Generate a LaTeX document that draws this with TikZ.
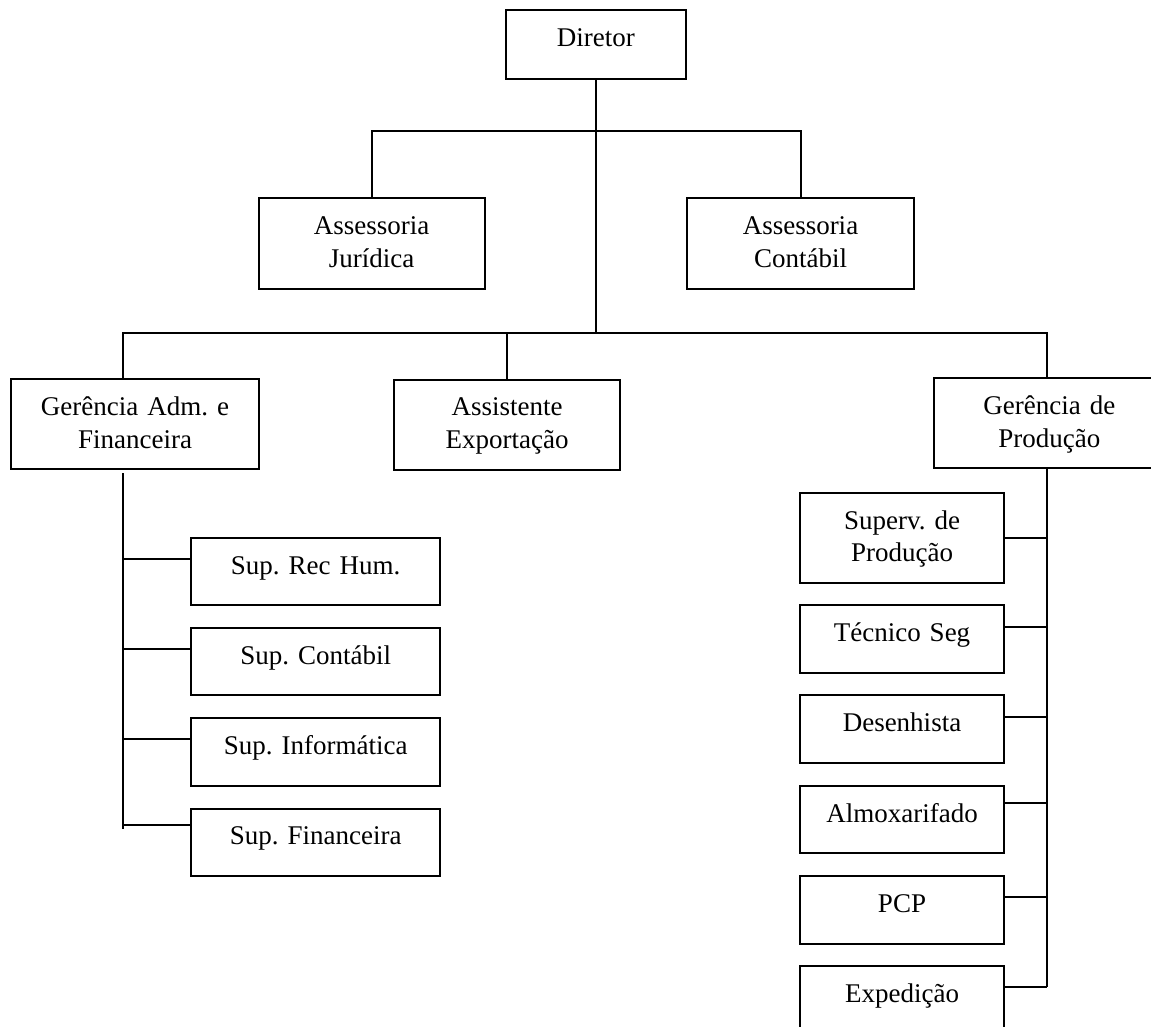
\documentclass[tikz,border=0pt]{standalone}
\usepackage{fontspec}
\setmainfont{Liberation Serif}
\frenchspacing
\begin{document}
\begin{tikzpicture}[x=1pt,y=-1pt,
  line width=2pt,
  box/.style={draw, rectangle, inner sep=0pt, anchor=north west, align=center,
    font=\fontsize{27}{32.7}\selectfont, text height=36.3pt},
  wide/.style={text width=#1pt, minimum width=#1pt},
  tall/.style n args={2}{minimum height=#1pt, text depth=#2pt},
  link/.style={line width=2pt}]
\useasboundingbox (0,0) rectangle (1151,1027);
\clip (0,0) rectangle (1151,1027);

% top level
\node[box, wide=180.8, tall={68.4}{32.1}] (dir) at (504.5,9.3) {Diretor};

% staff advisors
\node[box, wide=226.2, tall={90.5}{54.2}] (jur) at (257.6,197.5) {Assessoria\\Jurídica};
\node[box, wide=226.4, tall={90.5}{54.2}] (cont) at (686.3,197.5) {Assessoria\\Contábil};

% managers
\node[box, wide=248.6, tall={90}{53.7}] (gadm) at (9.7,378.3) {Gerência Adm. e\\Financeira};
\node[box, wide=226.3, tall={90.2}{53.9}] (asst) at (393,378.5) {Assistente\\Exportação};
\node[box, wide=230, tall={90.3}{54}] (gprod) at (933.3,377) {Gerência de\\Produção};

% administrative supervisors
\node[box, wide=249.3, tall={67.6}{31.3}] (rh) at (190,536.7) {Sup. Rec Hum.};
\node[box, wide=249.3, tall={67.6}{31.3}] (sct) at (190,626.7) {Sup. Contábil};
\node[box, wide=249.3, tall={67.6}{31.3}] (inf) at (190,717.3) {Sup. Informática\hspace*{14pt}};
\node[box, wide=249.3, tall={67.6}{31.3}] (fin) at (190,807.5) {Sup. Financeira};

% production staff
\node[box, wide=204, tall={90}{53.7}] (sp) at (799,491.7) {Superv. de\\Produção};
\node[box, wide=204, tall={68}{31.7}] (tec) at (799,604.3) {Técnico Seg};
\node[box, wide=204, tall={68}{31.7}] (des) at (799,694.3) {Desenhista};
\node[box, wide=204, tall={67.3}{31}] (alm) at (799,785) {Almoxarifado};
\node[box, wide=204, tall={67.7}{31.4}] (pcp) at (799,875) {PCP};
\node[box, wide=204, tall={90}{53.7}] (exp) at (799,965) {Expedição};

% bus junctions
\coordinate (topbus) at (596,130.7);
\coordinate (lowbus) at (596,333.3);
\coordinate (admtop) at (122.7,473.3);
\coordinate (admend) at (122.7,829.3);
\coordinate (prodend) at (1047.3,987);

% director to advisors and managers
\draw[link] (dir.south -| topbus) -- (lowbus);
\draw[link] (jur.north) -- (jur.north |- topbus) -- (cont.north |- topbus) -- (cont.north);
\draw[link] (gadm.north -| admtop) -- (admtop |- lowbus) -- (lowbus -| prodend) -- (gprod.north -| prodend);
\draw[link] (asst.north) -- (asst.north |- lowbus);

% administrative trunk
\draw[link] (admtop) -- (admend);
\draw[link] ([yshift=-22.3pt]rh.north west) -- ([yshift=-22.3pt]rh.north west -| admtop);
\draw[link] ([yshift=-22pt]sct.north west) -- ([yshift=-22pt]sct.north west -| admtop);
\draw[link] ([yshift=-22pt]inf.north west) -- ([yshift=-22pt]inf.north west -| admtop);
\draw[link] ([yshift=-17.5pt]fin.north west) -- ([yshift=-17.5pt]fin.north west -| admtop);

% production trunk
\draw[link] (gprod.south -| prodend) -- (prodend);
\draw[link] (sp.east) -- (sp.east -| prodend);
\draw[link] ([yshift=-22.4pt]tec.north east) -- ([yshift=-22.4pt]tec.north east -| prodend);
\draw[link] ([yshift=-22.4pt]des.north east) -- ([yshift=-22.4pt]des.north east -| prodend);
\draw[link] ([yshift=-18pt]alm.north east) -- ([yshift=-18pt]alm.north east -| prodend);
\draw[link] ([yshift=-22pt]pcp.north east) -- ([yshift=-22pt]pcp.north east -| prodend);
\draw[link] ([yshift=-22pt]exp.north east) -- (prodend);
\end{tikzpicture}
\end{document}
